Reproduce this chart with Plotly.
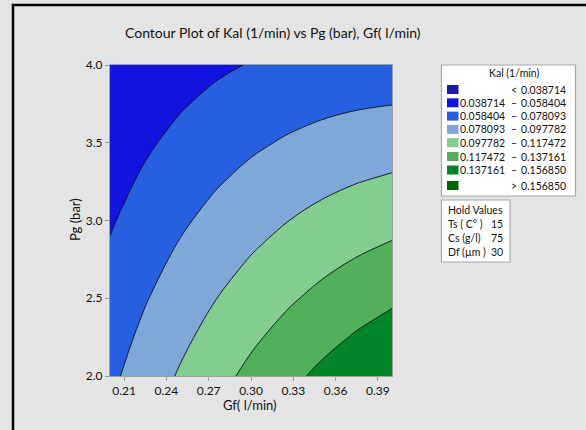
import plotly.graph_objects as go

# ---- data ----
gf_values = [0.200, 0.225, 0.250, 0.275, 0.300, 0.325, 0.350, 0.375, 0.400]
pg_values = [2.00, 2.25, 2.50, 2.75, 3.00, 3.25, 3.50, 3.75, 4.00]
kal = [
    [0.07417, 0.08739, 0.09977, 0.11133, 0.12206, 0.13195, 0.14102, 0.14925, 0.15666],
    [0.06982, 0.08218, 0.09371, 0.10441, 0.11428, 0.12331, 0.13152, 0.13890, 0.14544],
    [0.06546, 0.07696, 0.08763, 0.09747, 0.10648, 0.11466, 0.12200, 0.12852, 0.13421],
    [0.06107, 0.07172, 0.08153, 0.09051, 0.09866, 0.10598, 0.11247, 0.11813, 0.12296],
    [0.05667, 0.06645, 0.07541, 0.08353, 0.09082, 0.09728, 0.10291, 0.10771, 0.11169],
    [0.05225, 0.06117, 0.06927, 0.07653, 0.08296, 0.08857, 0.09334, 0.09728, 0.10039],
    [0.04781, 0.05587, 0.06311, 0.06951, 0.07509, 0.07983, 0.08375, 0.08683, 0.08909],
    [0.04335, 0.05055, 0.05693, 0.06248, 0.06719, 0.07108, 0.07414, 0.07636, 0.07776],
    [0.03887, 0.04522, 0.05074, 0.05542, 0.05928, 0.06231, 0.06451, 0.06587, 0.06641],
]
levels = [0.038714, 0.058404, 0.078093, 0.097782, 0.117472, 0.137161, 0.156850]
band_colors = ["#1b1ba6", "#1313e0", "#2560e0", "#7ea8d8",
               "#82cd90", "#52b05a", "#008628", "#006400"]
legend_low = ["", "0.038714", "0.058404", "0.078093", "0.097782", "0.117472", "0.137161", ""]
legend_sep = ["<", "–", "–", "–", "–", "–", "–", ">"]
legend_high = ["0.038714", "0.058404", "0.078093", "0.097782", "0.117472", "0.137161", "0.156850", "0.156850"]
hold_names = ["Ts ( C° )", "Cs (g/l)", "Df (µm )"]
hold_vals = [15, 75, 30]
x_ticks = [0.21, 0.24, 0.27, 0.30, 0.33, 0.36, 0.39]
y_ticks = [2.0, 2.5, 3.0, 3.5, 4.0]

# ---- layout geometry (pixels) ----
W, H = 586, 430
L, R, T, B = 110, 194, 65, 54
PW, PH = W - L - R, H - T - B
FONT = "Lato, 'Open Sans', sans-serif"


def px(x):
    return (x - L) / PW


def py(y):
    return (H - B - y) / PH


n_steps = len(levels) - 1
step = (levels[-1] - levels[0]) / n_steps
n = len(band_colors)
# plotly samples fill colours at fractions k/(n-1); build a stepped scale around them
cscale = []
for k, c in enumerate(band_colors):
    lo = max(0.0, (k - 0.5) / (n - 1))
    hi = min(1.0, (k + 0.5) / (n - 1))
    cscale.append([lo, c])
    cscale.append([hi, c])

fig = go.Figure()
fig.add_trace(go.Contour(
    x=gf_values, y=pg_values, z=kal,
    colorscale=cscale, showscale=False,
    contours=dict(start=levels[0], end=levels[-1] + step * 0.01, size=step, coloring="fill"),
    line=dict(color="#101010", width=0.9, smoothing=1.0),
    hoverinfo="skip",
))

shapes = []
annotations = []
# outer black frame (left and top) as one open path
shapes.append(dict(type="path", xref="paper", yref="paper",
                   path=f"M {px(13)},{py(430)} L {px(13)},{py(5)} L {px(586)},{py(5)}",
                   line=dict(color="black", width=2.5)))

TXT = dict(family=FONT, size=10.5, color="#111")
# legend box
lx0, lx1, ly0, ly1 = 441.5, 575.5, 65, 196
shapes.append(dict(type="rect", xref="paper", yref="paper", x0=px(lx0), x1=px(lx1),
                   y0=py(ly0), y1=py(ly1), fillcolor="white",
                   line=dict(color="#a8a8a8", width=1.2)))
annotations.append(dict(text="Kal (1/min)", x=px(514), y=py(73), xref="paper", yref="paper",
                        showarrow=False, xanchor="center", yanchor="middle", font=TXT))
row_y = [89.5, 102.8, 116.1, 129.4, 142.7, 156.5, 170.0, 185.5]
for i in range(n):
    yc = row_y[i]
    shapes.append(dict(type="rect", xref="paper", yref="paper", x0=px(447), x1=px(458.5),
                       y0=py(yc - 4.5), y1=py(yc + 4.5), fillcolor=band_colors[i],
                       line=dict(width=0)))
    if legend_low[i]:
        annotations.append(dict(text=legend_low[i], x=px(507), y=py(yc), xref="paper", yref="paper",
                                showarrow=False, xanchor="right", yanchor="middle", font=TXT))
    annotations.append(dict(text=legend_sep[i], x=px(514), y=py(yc), xref="paper", yref="paper",
                            showarrow=False, xanchor="center", yanchor="middle", font=TXT))
    annotations.append(dict(text=legend_high[i], x=px(568), y=py(yc), xref="paper", yref="paper",
                            showarrow=False, xanchor="right", yanchor="middle", font=TXT))

# hold values box
hx0, hx1, hy0, hy1 = 441.5, 510, 200, 262
shapes.append(dict(type="rect", xref="paper", yref="paper", x0=px(hx0), x1=px(hx1),
                   y0=py(hy0), y1=py(hy1), fillcolor="white",
                   line=dict(color="#a8a8a8", width=1.2)))
annotations.append(dict(text="Hold Values", x=px(446), y=py(209.5), xref="paper", yref="paper",
                        showarrow=False, xanchor="left", yanchor="middle", font=TXT))
for i, (nm, v) in enumerate(zip(hold_names, hold_vals)):
    yc = 223.5 + i * 14.2
    annotations.append(dict(text=nm, x=px(446), y=py(yc), xref="paper", yref="paper",
                            showarrow=False, xanchor="left", yanchor="middle", font=TXT))
    annotations.append(dict(text=str(v), x=px(505), y=py(yc), xref="paper", yref="paper",
                            showarrow=False, xanchor="right", yanchor="middle", font=TXT))

# title and axis titles
annotations.append(dict(text="Contour Plot of Kal (1/min) vs Pg (bar), Gf( l/min)",
                        x=px(273), y=py(33), xref="paper", yref="paper", showarrow=False,
                        xanchor="center", yanchor="middle",
                        font=dict(family=FONT, size=14, color="#111")))
annotations.append(dict(text="Gf( l/min)", x=px(250), y=py(405), xref="paper", yref="paper",
                        showarrow=False, xanchor="center", yanchor="middle",
                        font=dict(family=FONT, size=13, color="#111")))
annotations.append(dict(text="Pg (bar)", x=px(75), y=py(220), xref="paper", yref="paper",
                        showarrow=False, xanchor="center", yanchor="middle", textangle=-90,
                        font=dict(family=FONT, size=13, color="#111")))

fig.update_layout(
    width=W, height=H,
    margin=dict(l=L, r=R, t=T, b=B, pad=0),
    paper_bgcolor="#e4e4e4", plot_bgcolor="#e4e4e4",
    showlegend=False,
    shapes=shapes, annotations=annotations,
    font=dict(family=FONT, size=12, color="#111"),
    xaxis=dict(range=[0.2, 0.4], tickvals=x_ticks, ticktext=[f"{v:.2f}" for v in x_ticks],
               ticks="outside", ticklen=4, tickcolor="#9a9a9a", showgrid=False, zeroline=False,
               showline=True, linecolor="#a0a0a0", linewidth=1, mirror=True,
               tickfont=dict(family=FONT, size=12, color="#111")),
    yaxis=dict(range=[2.0, 4.0], tickvals=y_ticks, ticktext=[f"{v:.1f}" for v in y_ticks],
               ticks="outside", ticklen=4, tickcolor="#9a9a9a", showgrid=False, zeroline=False,
               showline=True, linecolor="#a0a0a0", linewidth=1, mirror=True,
               tickfont=dict(family=FONT, size=12, color="#111")),
)
fig.write_html("out.html", config={"displayModeBar": False, "staticPlot": True},
               post_script="document.body.style.margin='0';document.body.style.padding='0';"
                           "document.body.style.overflow='hidden';")
